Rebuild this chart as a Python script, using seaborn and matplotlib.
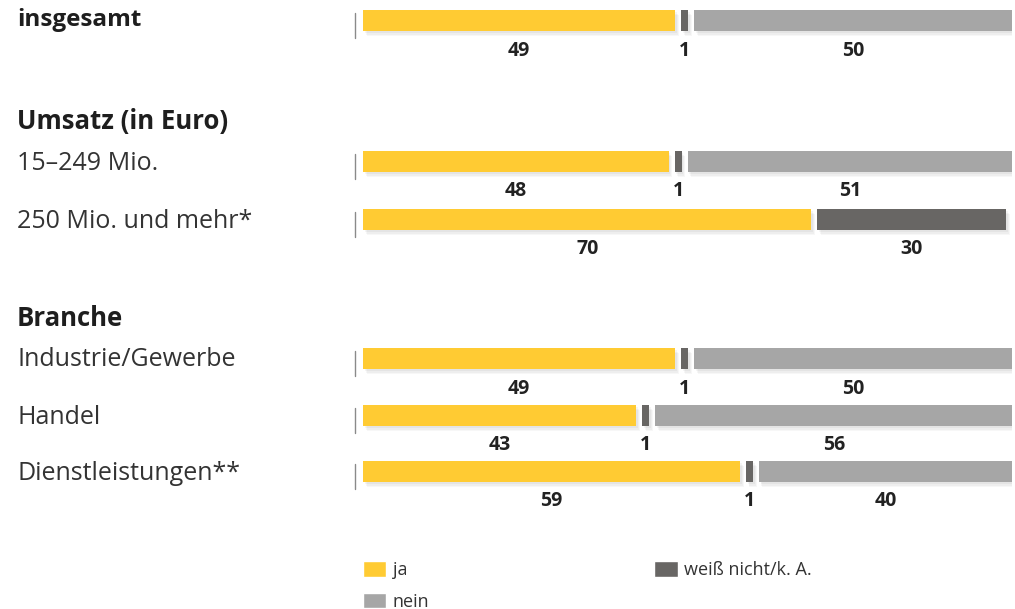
import matplotlib
matplotlib.use("Agg")
import matplotlib.pyplot as plt
import seaborn as sns
from matplotlib.patches import Patch

# ---- data ----
row_labels = ["insgesamt", "15–249 Mio.", "250 Mio. und mehr*",
              "Industrie/Gewerbe", "Handel", "Dienstleistungen**"]
ja = [49, 48, 70, 49, 43, 59]
weiss_nicht = [1, 1, 30, 1, 1, 1]
nein = [50, 51, 0, 50, 56, 40]
headings = ["Umsatz (in Euro)", "Branche"]
series_names = ["ja", "weiß nicht/k. A.", "nein"]

# ---- style ----
sns.set_theme(style="white")
plt.rcParams["font.family"] = ["Open Sans", "DejaVu Sans"]
colors = ["#FFCB33", "#686664", "#A6A6A6"]

W, H = 1015, 609
fig = plt.figure(figsize=(W / 100, H / 100), dpi=100)
X0, X1 = 363, 1012
ax = fig.add_axes([X0 / W, 0, (X1 - X0) / W, 1])
ax.set_xlim(0, 100)
ax.set_ylim(H, 0)
ax.axis("off")

pxs = (X1 - X0) / 100.0
def px2x(px):
    return (px - X0) / pxs

bar_y = [20.5, 161.5, 219.5, 358.5, 415.5, 471.5]
heading_y = [122, 318]
bar_h = 21
gap = 0.9
minw = 1.1

for i, y in enumerate(bar_y):
    vals = [ja[i], weiss_nicht[i], nein[i]]
    left = 0.0
    # tick mark
    ax.plot([px2x(355)] * 2, [y - 7.5, y + 17.5], color="#8a8a8a", lw=1,
            zorder=1, clip_on=False)
    for j, v in enumerate(vals):
        if v <= 0:
            continue
        w = max(v - gap, minw)
        # soft shadow
        for k, a in enumerate([0.04, 0.035, 0.03]):
            ax.barh(y + 2 + 1.5 * k, w, left=left + 0.25 + 0.15 * k, height=bar_h,
                    color="black", alpha=a, linewidth=0, zorder=1)
        ax.barh(y, w, left=left, height=bar_h, color=colors[j], linewidth=0, zorder=3)
        ax.text(left + w / 2, y + 30, f"{v}", ha="center", va="center",
                fontsize=14, fontweight="bold", color="#222222", zorder=4)
        left += w + gap

# row labels
lab_x = px2x(17)
for i, y in enumerate(bar_y):
    if i == 0:
        ax.text(lab_x, y, row_labels[i], ha="left", va="center", fontsize=17.5,
                fontweight="bold", color="#1e1e1e", clip_on=False)
    else:
        ax.text(lab_x, y + 1.5, row_labels[i], ha="left", va="center", fontsize=18,
                color="#333333", clip_on=False)
for h, y in zip(headings, heading_y):
    ax.text(lab_x, y, h, ha="left", va="center", fontsize=18.5,
            fontweight="bold", color="#1e1e1e", clip_on=False)

# legend
handles = [Patch(facecolor=colors[0], label=series_names[0]),
           Patch(facecolor=colors[2], label=series_names[2]),
           Patch(facecolor=colors[1], label=series_names[1])]
leg = fig.legend(handles=handles, ncol=2, loc="upper left",
                 bbox_to_anchor=(X0 / W, 1 - 561 / H), frameon=False,
                 fontsize=13, handlelength=1.3, handleheight=0.95,
                 handletextpad=0.35, labelspacing=0.75, columnspacing=12.45,
                 borderpad=0, borderaxespad=0)
for t in leg.get_texts():
    t.set_color("#333333")

fig.savefig("out.png", dpi=100, facecolor="white")
